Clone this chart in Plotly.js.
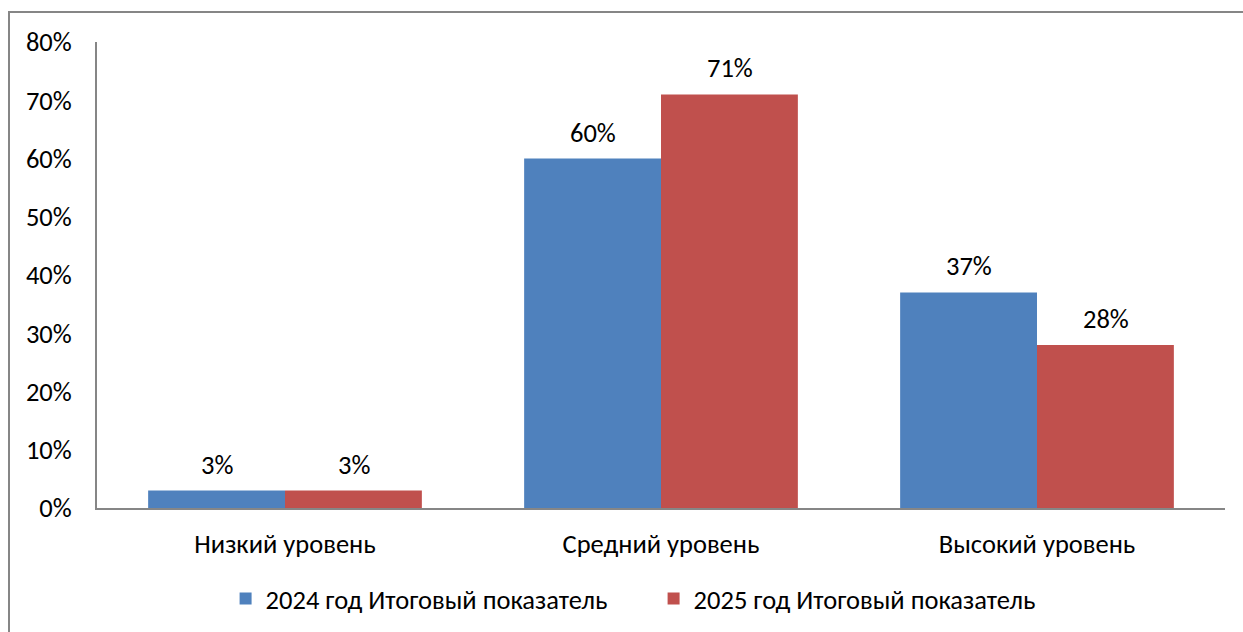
<!DOCTYPE html>
<html>
<head>
<meta charset="utf-8">
<script src="https://cdn.plot.ly/plotly-3.0.1.min.js"></script>
<style>
html,body{margin:0;padding:0;overflow:hidden;background:#fff;}
#chart{width:1243px;height:632px;}
#frame{position:absolute;left:8px;top:11px;width:1260px;height:660px;border:2px solid #868686;pointer-events:none;box-sizing:border-box;}
</style>
</head>
<body>
<div id="chart"></div>
<div id="frame"></div>
<script>
const categories = ["Низкий уровень", "Средний уровень", "Высокий уровень"];
const seriesNames = ["2024 год Итоговый показатель", "2025 год Итоговый показатель"];
const values2024 = [0.03, 0.60, 0.37];
const values2025 = [0.03, 0.71, 0.28];
const labels2024 = ["3%", "60%", "37%"];
const labels2025 = ["3%", "71%", "28%"];
const yTickVals = [0, 0.1, 0.2, 0.3, 0.4, 0.5, 0.6, 0.7, 0.8];
const yTickText = ["0%", "10%", "20%", "30%", "40%", "50%", "60%", "70%", "80%"];

const FONT = "Carlito, Calibri, 'Open Sans', sans-serif";
const FS = 26.5;
const colors = ["#4F81BD", "#C0504D"];

const traces = [
  {type: "bar", name: seriesNames[0], x: categories, y: values2024, marker: {color: colors[0]}, hoverinfo: "none"},
  {type: "bar", name: seriesNames[1], x: categories, y: values2025, marker: {color: colors[1]}, hoverinfo: "none"}
];

const annotations = [];
[[values2024, labels2024, -1], [values2025, labels2025, 1]].forEach(([vals, labs, side]) => {
  vals.forEach((v, i) => {
    annotations.push({
      x: categories[i], y: v, xref: "x", yref: "y",
      text: labs[i], showarrow: false, yanchor: "middle",
      xshift: side * 68.5, yshift: 26,
      font: {family: FONT, size: FS, color: "#000"}
    });
  });
});

const layout = {
  width: 1243, height: 632,
  margin: {l: 97, r: 18, t: 42, b: 124, pad: 0, autoexpand: false},
  paper_bgcolor: "#fff", plot_bgcolor: "#fff",
  barmode: "group", bargap: 0.272, bargroupgap: 0,
  font: {family: FONT, size: FS, color: "#000"},
  xaxis: {
    type: "category", showgrid: false, zeroline: false,
    showline: true, linecolor: "#868686", linewidth: 2,
    ticks: "", ticklabelstandoff: 11, automargin: false,
    tickfont: {family: FONT, size: FS, color: "#000"}
  },
  yaxis: {
    range: [0, 0.8], tickvals: yTickVals, ticktext: yTickText,
    showgrid: false, zeroline: false,
    showline: true, linecolor: "#868686", linewidth: 2,
    ticks: "", ticklabelstandoff: 18, automargin: false,
    tickfont: {family: FONT, size: FS, color: "#000"}
  },
  showlegend: true,
  legend: {
    orientation: "h", x: 0.114, xanchor: "left", y: -0.195, yanchor: "middle",
    font: {family: FONT, size: FS, color: "#000"},
    itemwidth: 30, entrywidth: 383, entrywidthmode: "pixels", traceorder: "normal"
  },
  annotations: annotations
};

Plotly.newPlot("chart", traces, layout, {displayModeBar: false, staticPlot: true});
</script>
</body>
</html>
